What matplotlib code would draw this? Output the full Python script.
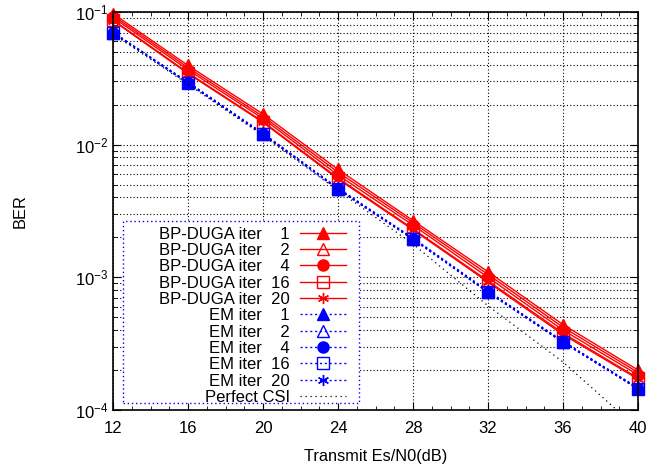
import numpy as np
import matplotlib.pyplot as plt
from matplotlib.patches import Rectangle
from matplotlib.ticker import LogLocator, MultipleLocator, NullFormatter

plt.rcParams['font.family'] = ['Liberation Sans', 'DejaVu Sans']
plt.rcParams['mathtext.fontset'] = 'custom'
plt.rcParams['mathtext.rm'] = 'Liberation Sans'
plt.rcParams['mathtext.it'] = 'Liberation Sans'

snr = [12, 16, 20, 24, 28, 32, 36, 40]

bp_iters = [1, 2, 4, 16, 20]
bp_ber = [
    [0.097, 0.0395, 0.0170, 0.0065, 0.00268, 0.00110, 0.00044, 0.000200],
    [0.094, 0.038, 0.0163, 0.0062, 0.00258, 0.00105, 0.00042, 0.000192],
    [0.091, 0.0366, 0.0157, 0.0059, 0.00247, 0.00100, 0.00040, 0.000184],
    [0.087, 0.0348, 0.0149, 0.0056, 0.00232, 0.00094, 0.00038, 0.000174],
    [0.086, 0.0343, 0.0147, 0.0055, 0.00228, 0.00092, 0.00037, 0.000171],
]

em_iters = [1, 2, 4, 16, 20]
em_ber = [
    [0.0705, 0.0296, 0.0122, 0.0047, 0.00198, 0.00079, 0.000330, 0.000147],
    [0.0700, 0.0294, 0.0121, 0.00466, 0.00196, 0.00078, 0.000327, 0.000146],
    [0.0697, 0.0292, 0.0120, 0.00463, 0.00195, 0.000775, 0.000325, 0.000145],
    [0.0695, 0.0291, 0.0120, 0.00461, 0.00194, 0.000772, 0.000324, 0.000144],
    [0.0694, 0.0290, 0.0119, 0.00460, 0.00193, 0.000770, 0.000323, 0.000144],
]

perfect_csi = [0.068, 0.0285, 0.0117, 0.0045, 0.00178, 0.00061, 0.00023, 0.000072]

markers = ['^', '^', 'o', 's', (6, 2, 0)]
filled = [True, False, True, False, True]

fig = plt.figure(figsize=(6.47, 4.65), dpi=100)
ax = fig.add_axes([0.1747, 0.1183, 0.8114, 0.856])

for it, ber, m, f in zip(bp_iters, bp_ber, markers, filled):
    ax.plot(snr, ber, color='red', lw=1.0, ls='-', marker=m, ms=8,
            mfc='red' if f else 'none', mec='red', mew=1.0, clip_on=False,
            label='BP-DUGA iter %s%d' % (' ' * (3 if it < 10 else 1), it))

for it, ber, m, f in zip(em_iters, em_ber, markers, filled):
    ax.plot(snr, ber, color='blue', lw=1.0, ls=(0, (1.5, 2)), marker=m, ms=8,
            mfc='blue' if f else 'none', mec='blue', mew=1.0, clip_on=False,
            label='EM iter %s%d' % (' ' * (3 if it < 10 else 1), it))

ax.plot(snr, perfect_csi, color='black', lw=0.9, ls=(0, (1, 3)), label='Perfect CSI')

ax.set_yscale('log')
ax.set_xlim(12, 40)
ax.set_ylim(1e-4, 1e-1)
ax.xaxis.set_major_locator(MultipleLocator(4))
ax.xaxis.set_minor_locator(MultipleLocator(1))
ax.yaxis.set_major_locator(LogLocator(base=10))
ax.yaxis.set_minor_locator(LogLocator(base=10, subs=np.arange(2, 10)))
ax.yaxis.set_minor_formatter(NullFormatter())

ax.grid(True, which='major', axis='both', color='black', ls=(0, (1, 2)), lw=0.8)
ax.grid(True, which='minor', axis='y', color='black', ls=(0, (1, 2)), lw=0.8)
ax.tick_params(which='both', direction='in', top=True, right=True, labelsize=12)
ax.tick_params(which='major', length=6)
ax.tick_params(which='minor', length=3)
ax.tick_params(axis='x', pad=8)
for s in ax.spines.values():
    s.set_linewidth(1.2)

ax.set_xlabel('Transmit Es/N0(dB)', fontsize=11.8, labelpad=9)
ax.set_ylabel('BER', fontsize=11.8, labelpad=34)

# legend entries right-aligned, box drawn separately (gnuplot style)
leg = ax.legend(loc='lower right', bbox_to_anchor=(0.454, 0.0), borderaxespad=0,
                markerfirst=False, fontsize=12, labelspacing=0.08, handlelength=2.8,
                handletextpad=0.6, borderpad=0.3, frameon=False)
leg.set_zorder(5)
ax.add_patch(Rectangle((0.019, 0.0176), 0.4495, 0.457, transform=ax.transAxes,
                       facecolor='white', edgecolor='blue', lw=1.0,
                       ls=(0, (1, 2)), zorder=4))

fig.savefig('out.png', dpi=100)
